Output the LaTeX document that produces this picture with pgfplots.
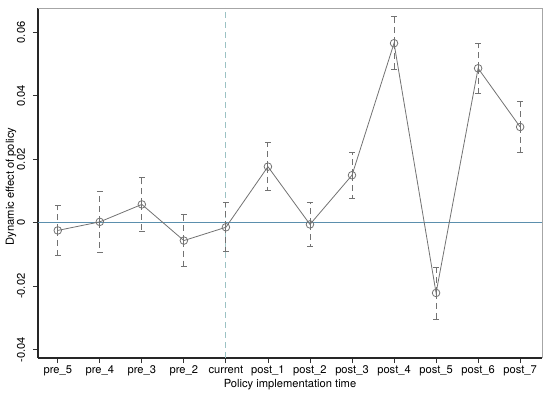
\documentclass[border=0pt]{standalone}
\usepackage{fontspec}
\setmainfont{TeX Gyre Heros}
\usepackage{pgfplots}
\pgfplotsset{compat=1.18}
\usepackage{pgfplotstable}
\definecolor{zeroline}{HTML}{5B8FAD}
\definecolor{vline}{HTML}{9CC2C4}
\definecolor{ser}{HTML}{727272}
\pgfplotstableread{
x y e
0 -0.0024 0.0079
1 0.0003 0.0096
2 0.0058 0.0085
3 -0.0056 0.0082
4 -0.0014 0.0077
5 0.0177 0.0075
6 -0.0005 0.0069
7 0.0150 0.0073
8 0.0566 0.0083
9 -0.0221 0.0082
10 0.0487 0.0079
11 0.0302 0.0080
}\datatable
\begin{document}
\begin{tikzpicture}
\useasboundingbox (-38bp,-37bp) rectangle (512bp,358bp);
\begin{axis}[
  at={(0,0)}, anchor=south west,
  scale only axis, width=504bp, height=350bp,
  xmin=-0.47, xmax=11.52, ymin=-0.0426, ymax=0.0677,
  axis x line*=bottom, axis y line*=left,
  axis line style={draw=black!85, line width=1.1pt, -},
  tick align=outside, major tick length=5bp,
  tick style={black!80, line width=0.8pt},
  xtick={0,...,11},
  xticklabels={pre\_5,pre\_4,pre\_3,pre\_2,current,post\_1,post\_2,post\_3,post\_4,post\_5,post\_6,post\_7},
  ytick={-0.04,-0.02,0,0.02,0.04,0.06},
  yticklabels={-0.04,-0.02,0,0.02,0.04,0.06},
  scaled y ticks=false,
  yticklabel style={rotate=90, anchor=south, inner sep=0pt, outer sep=0pt},
  yticklabel shift=8bp,
  xticklabel style={inner sep=2.5bp},
  tick label style={font=\fontsize{11.2}{13}\selectfont},
  label style={font=\fontsize{11.2}{13}\selectfont},
  xlabel={Policy implementation time},
  ylabel={Dynamic effect of policy},
  xlabel style={at={([yshift=-27bp]rel axis cs:0.5,0)}, anchor=center},
  ylabel style={at={([xshift=-27bp]rel axis cs:0,0.49)}, anchor=center},
  clip=false,
]
\draw[zeroline, line width=0.8pt] (axis cs:-0.47,0) -- (axis cs:11.52,0);
\draw[vline, line width=0.8pt, dash pattern=on 6bp off 4bp] (axis cs:4,-0.0426) -- (axis cs:4,0.0677);
\draw[gray!70, line width=0.8pt] (rel axis cs:0,1) -- (rel axis cs:1,1) -- (rel axis cs:1,0);
\addplot[ser, line width=0.8pt, mark=o, mark size=3.8bp, mark options={solid, ser, line width=0.8pt},
  error bars/.cd, y dir=both, y explicit,
  error bar style={dash pattern=on 6bp off 4bp, ser, line width=0.9pt},
  error mark options={rotate=90, mark size=3bp, solid, ser, line width=0.8pt}]
  table[x=x, y=y, y error=e] {\datatable};
\end{axis}
\end{tikzpicture}
\end{document}
